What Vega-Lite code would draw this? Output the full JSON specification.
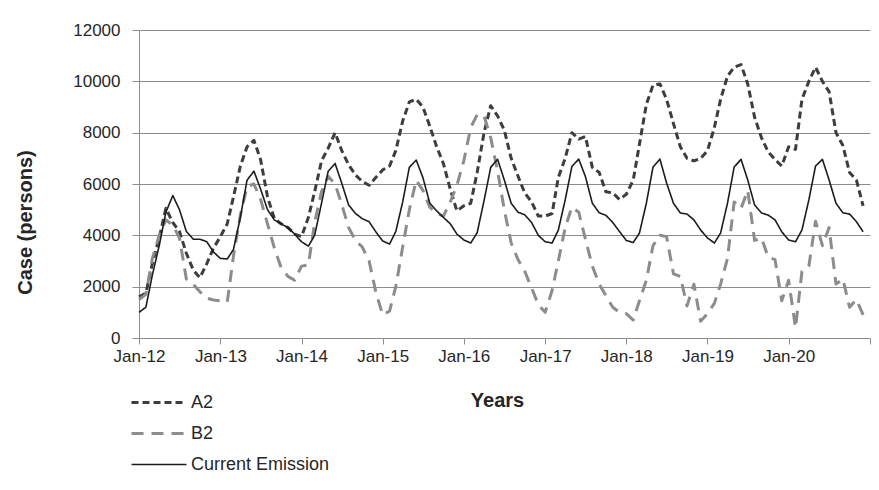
{
  "$schema": "https://vega.github.io/schema/vega-lite/v6.json",
  "width": 731,
  "height": 308,
  "autosize": {"type": "none"},
  "padding": {"left": 139, "top": 30, "right": 9, "bottom": 152},
  "background": "white",
  "config": {"view": {"stroke": null}, "font": "Liberation Sans"},
  "data": {"values": [
    {"date": "2012-01-01", "A2": 1600, "B2": 1500, "Current Emission": 1000},
    {"date": "2012-02-01", "A2": 1750, "B2": 1700, "Current Emission": 1200},
    {"date": "2012-03-01", "A2": 2900, "B2": 3100, "Current Emission": 2450},
    {"date": "2012-04-01", "A2": 3900, "B2": 4000, "Current Emission": 3600},
    {"date": "2012-05-01", "A2": 5050, "B2": 4600, "Current Emission": 4900},
    {"date": "2012-06-01", "A2": 4500, "B2": 4400, "Current Emission": 5550},
    {"date": "2012-07-01", "A2": 4150, "B2": 3900, "Current Emission": 5000},
    {"date": "2012-08-01", "A2": 3300, "B2": 2300, "Current Emission": 4150},
    {"date": "2012-09-01", "A2": 2650, "B2": 2100, "Current Emission": 3850},
    {"date": "2012-10-01", "A2": 2350, "B2": 1800, "Current Emission": 3850},
    {"date": "2012-11-01", "A2": 2900, "B2": 1550, "Current Emission": 3750},
    {"date": "2012-12-01", "A2": 3500, "B2": 1480, "Current Emission": 3350},
    {"date": "2013-01-01", "A2": 3950, "B2": 1450, "Current Emission": 3100},
    {"date": "2013-02-01", "A2": 4450, "B2": 1400, "Current Emission": 3080},
    {"date": "2013-03-01", "A2": 5500, "B2": 3200, "Current Emission": 3450},
    {"date": "2013-04-01", "A2": 6700, "B2": 4800, "Current Emission": 4700},
    {"date": "2013-05-01", "A2": 7450, "B2": 5900, "Current Emission": 6150},
    {"date": "2013-06-01", "A2": 7700, "B2": 6000, "Current Emission": 6500},
    {"date": "2013-07-01", "A2": 6950, "B2": 5400, "Current Emission": 5800},
    {"date": "2013-08-01", "A2": 5500, "B2": 4450, "Current Emission": 5000},
    {"date": "2013-09-01", "A2": 4650, "B2": 3500, "Current Emission": 4600},
    {"date": "2013-10-01", "A2": 4450, "B2": 2750, "Current Emission": 4450},
    {"date": "2013-11-01", "A2": 4300, "B2": 2400, "Current Emission": 4300},
    {"date": "2013-12-01", "A2": 4050, "B2": 2250, "Current Emission": 4050},
    {"date": "2014-01-01", "A2": 3950, "B2": 2800, "Current Emission": 3750},
    {"date": "2014-02-01", "A2": 4700, "B2": 2850, "Current Emission": 3580},
    {"date": "2014-03-01", "A2": 5700, "B2": 4500, "Current Emission": 4000},
    {"date": "2014-04-01", "A2": 6900, "B2": 5700, "Current Emission": 5250},
    {"date": "2014-05-01", "A2": 7400, "B2": 6300, "Current Emission": 6500},
    {"date": "2014-06-01", "A2": 8000, "B2": 6000, "Current Emission": 6800},
    {"date": "2014-07-01", "A2": 7300, "B2": 5200, "Current Emission": 6030},
    {"date": "2014-08-01", "A2": 6750, "B2": 4300, "Current Emission": 5180},
    {"date": "2014-09-01", "A2": 6350, "B2": 3800, "Current Emission": 4850},
    {"date": "2014-10-01", "A2": 6100, "B2": 3550, "Current Emission": 4650},
    {"date": "2014-11-01", "A2": 5950, "B2": 3000, "Current Emission": 4530},
    {"date": "2014-12-01", "A2": 6250, "B2": 1800, "Current Emission": 4140},
    {"date": "2015-01-01", "A2": 6550, "B2": 900, "Current Emission": 3780},
    {"date": "2015-02-01", "A2": 6700, "B2": 1050, "Current Emission": 3660},
    {"date": "2015-03-01", "A2": 7300, "B2": 2000, "Current Emission": 4150},
    {"date": "2015-04-01", "A2": 8450, "B2": 3550, "Current Emission": 5300},
    {"date": "2015-05-01", "A2": 9200, "B2": 5000, "Current Emission": 6650},
    {"date": "2015-06-01", "A2": 9300, "B2": 6150, "Current Emission": 6930},
    {"date": "2015-07-01", "A2": 9000, "B2": 5750, "Current Emission": 6250},
    {"date": "2015-08-01", "A2": 8250, "B2": 5100, "Current Emission": 5250},
    {"date": "2015-09-01", "A2": 7450, "B2": 4850, "Current Emission": 4950},
    {"date": "2015-10-01", "A2": 6800, "B2": 4750, "Current Emission": 4700},
    {"date": "2015-11-01", "A2": 5800, "B2": 5300, "Current Emission": 4450},
    {"date": "2015-12-01", "A2": 4950, "B2": 5950, "Current Emission": 4050},
    {"date": "2016-01-01", "A2": 5150, "B2": 6900, "Current Emission": 3820},
    {"date": "2016-02-01", "A2": 5250, "B2": 8200, "Current Emission": 3700},
    {"date": "2016-03-01", "A2": 6450, "B2": 8700, "Current Emission": 4100},
    {"date": "2016-04-01", "A2": 8000, "B2": 8650, "Current Emission": 5350},
    {"date": "2016-05-01", "A2": 9050, "B2": 7800, "Current Emission": 6650},
    {"date": "2016-06-01", "A2": 8650, "B2": 6500, "Current Emission": 6960},
    {"date": "2016-07-01", "A2": 8100, "B2": 5000, "Current Emission": 6160},
    {"date": "2016-08-01", "A2": 7000, "B2": 3700, "Current Emission": 5250},
    {"date": "2016-09-01", "A2": 6300, "B2": 3050, "Current Emission": 4900},
    {"date": "2016-10-01", "A2": 5650, "B2": 2600, "Current Emission": 4800},
    {"date": "2016-11-01", "A2": 5300, "B2": 1950, "Current Emission": 4500},
    {"date": "2016-12-01", "A2": 4750, "B2": 1300, "Current Emission": 4000},
    {"date": "2017-01-01", "A2": 4750, "B2": 1000, "Current Emission": 3750},
    {"date": "2017-02-01", "A2": 4850, "B2": 1850, "Current Emission": 3700},
    {"date": "2017-03-01", "A2": 6250, "B2": 3000, "Current Emission": 4200},
    {"date": "2017-04-01", "A2": 7000, "B2": 4300, "Current Emission": 5380},
    {"date": "2017-05-01", "A2": 8000, "B2": 5100, "Current Emission": 6680},
    {"date": "2017-06-01", "A2": 7750, "B2": 4900, "Current Emission": 6970},
    {"date": "2017-07-01", "A2": 7850, "B2": 3850, "Current Emission": 6290},
    {"date": "2017-08-01", "A2": 6650, "B2": 2800, "Current Emission": 5250},
    {"date": "2017-09-01", "A2": 6450, "B2": 2100, "Current Emission": 4880},
    {"date": "2017-10-01", "A2": 5700, "B2": 1650, "Current Emission": 4780},
    {"date": "2017-11-01", "A2": 5650, "B2": 1200, "Current Emission": 4500},
    {"date": "2017-12-01", "A2": 5400, "B2": 1000, "Current Emission": 4150},
    {"date": "2018-01-01", "A2": 5600, "B2": 950, "Current Emission": 3800},
    {"date": "2018-02-01", "A2": 6150, "B2": 700, "Current Emission": 3720},
    {"date": "2018-03-01", "A2": 7550, "B2": 1450, "Current Emission": 4090},
    {"date": "2018-04-01", "A2": 9100, "B2": 2250, "Current Emission": 5250},
    {"date": "2018-05-01", "A2": 9850, "B2": 3600, "Current Emission": 6660},
    {"date": "2018-06-01", "A2": 9900, "B2": 4000, "Current Emission": 6970},
    {"date": "2018-07-01", "A2": 9300, "B2": 3950, "Current Emission": 6040},
    {"date": "2018-08-01", "A2": 8350, "B2": 2500, "Current Emission": 5250},
    {"date": "2018-09-01", "A2": 7450, "B2": 2400, "Current Emission": 4870},
    {"date": "2018-10-01", "A2": 7000, "B2": 1250, "Current Emission": 4830},
    {"date": "2018-11-01", "A2": 6900, "B2": 2100, "Current Emission": 4600},
    {"date": "2018-12-01", "A2": 7000, "B2": 650, "Current Emission": 4210},
    {"date": "2019-01-01", "A2": 7300, "B2": 950, "Current Emission": 3900},
    {"date": "2019-02-01", "A2": 8200, "B2": 1350, "Current Emission": 3700},
    {"date": "2019-03-01", "A2": 9300, "B2": 2100, "Current Emission": 4090},
    {"date": "2019-04-01", "A2": 10200, "B2": 3100, "Current Emission": 5250},
    {"date": "2019-05-01", "A2": 10550, "B2": 5300, "Current Emission": 6660},
    {"date": "2019-06-01", "A2": 10650, "B2": 5050, "Current Emission": 6960},
    {"date": "2019-07-01", "A2": 9900, "B2": 5750, "Current Emission": 6160},
    {"date": "2019-08-01", "A2": 8600, "B2": 3800, "Current Emission": 5180},
    {"date": "2019-09-01", "A2": 7800, "B2": 3900, "Current Emission": 4870},
    {"date": "2019-10-01", "A2": 7250, "B2": 3150, "Current Emission": 4790},
    {"date": "2019-11-01", "A2": 6950, "B2": 3050, "Current Emission": 4600},
    {"date": "2019-12-01", "A2": 6700, "B2": 1450, "Current Emission": 4140},
    {"date": "2020-01-01", "A2": 7450, "B2": 2250, "Current Emission": 3820},
    {"date": "2020-02-01", "A2": 7350, "B2": 400, "Current Emission": 3750},
    {"date": "2020-03-01", "A2": 9300, "B2": 2600, "Current Emission": 4210},
    {"date": "2020-04-01", "A2": 10000, "B2": 2800, "Current Emission": 5380},
    {"date": "2020-05-01", "A2": 10550, "B2": 4550, "Current Emission": 6700},
    {"date": "2020-06-01", "A2": 10000, "B2": 3600, "Current Emission": 6960},
    {"date": "2020-07-01", "A2": 9600, "B2": 4300, "Current Emission": 6160},
    {"date": "2020-08-01", "A2": 8000, "B2": 2100, "Current Emission": 5250},
    {"date": "2020-09-01", "A2": 7500, "B2": 2300, "Current Emission": 4880},
    {"date": "2020-10-01", "A2": 6450, "B2": 1200, "Current Emission": 4830},
    {"date": "2020-11-01", "A2": 6150, "B2": 1500, "Current Emission": 4530},
    {"date": "2020-12-01", "A2": 5150, "B2": 900, "Current Emission": 4140}
  ]},
  "transform": [{"fold": ["A2", "B2", "Current Emission"], "as": ["series", "value"]}],
  "mark": {"type": "line", "strokeJoin": "round"},
  "encoding": {
    "x": {
      "field": "date",
      "type": "temporal",
      "scale": {"type": "utc", "domain": [
        {"year": 2012, "month": 1, "date": 1, "utc": true},
        {"year": 2021, "month": 1, "date": 1, "utc": true}
      ]},
      "axis": {
        "values": [
          {"year": 2012, "month": 1, "date": 1, "utc": true},
          {"year": 2013, "month": 1, "date": 1, "utc": true},
          {"year": 2014, "month": 1, "date": 1, "utc": true},
          {"year": 2015, "month": 1, "date": 1, "utc": true},
          {"year": 2016, "month": 1, "date": 1, "utc": true},
          {"year": 2017, "month": 1, "date": 1, "utc": true},
          {"year": 2018, "month": 1, "date": 1, "utc": true},
          {"year": 2019, "month": 1, "date": 1, "utc": true},
          {"year": 2020, "month": 1, "date": 1, "utc": true},
          {"year": 2021, "month": 1, "date": 1, "utc": true}
        ],
        "labelExpr": "utcyear(datum.value) > 2020 ? '' : utcFormat(datum.value, '%b-%y')",
        "title": "Years",
        "grid": false,
        "domainColor": "#8c8c8c",
        "tickColor": "#8c8c8c",
        "tickSize": 6,
        "labelFontSize": 17,
        "labelColor": "#262626",
        "labelPadding": 4,
        "labelFlush": false,
        "labelOverlap": false,
        "titleFontSize": 20,
        "titleFontWeight": "bold",
        "titleColor": "#262626",
        "titleX": 358,
        "titleY": 62,
        "titleBaseline": "middle",
        "titleAlign": "center"
      }
    },
    "y": {
      "field": "value",
      "type": "quantitative",
      "scale": {"domain": [0, 12000]},
      "axis": {
        "values": [0, 2000, 4000, 6000, 8000, 10000, 12000],
        "format": "d",
        "title": "Case (persons)",
        "gridColor": "#8c8c8c",
        "gridWidth": 1,
        "domainColor": "#8c8c8c",
        "tickColor": "#8c8c8c",
        "tickSize": 7,
        "labelFontSize": 17,
        "labelColor": "#262626",
        "labelPadding": 12,
        "titleFontSize": 20,
        "titleFontWeight": "bold",
        "titleColor": "#262626",
        "titleX": -114,
        "titleY": 192,
        "titleAngle": -90,
        "titleBaseline": "middle",
        "titleAlign": "center"
      }
    },
    "color": {
      "field": "series",
      "type": "nominal",
      "scale": {"domain": ["A2", "B2", "Current Emission"], "range": ["#3d3d3d", "#8c8c8c", "#1c1c1c"]},
      "legend": {
        "title": null,
        "orient": "none",
        "legendX": -9,
        "legendY": 357,
        "direction": "vertical",
        "symbolType": "stroke",
        "symbolSize": 3025,
        "labelFontSize": 18,
        "labelColor": "#262626",
        "labelOffset": 3,
        "clipHeight": 31,
        "rowPadding": 0,
        "padding": 0
      }
    },
    "strokeDash": {
      "field": "series",
      "type": "nominal",
      "scale": {"domain": ["A2", "B2", "Current Emission"], "range": [[7, 4], [12, 8], [1, 0]]}
    },
    "strokeWidth": {
      "field": "series",
      "type": "nominal",
      "scale": {"type": "ordinal", "domain": ["A2", "B2", "Current Emission"], "range": [3, 3, 1.6]}
    }
  }
}
